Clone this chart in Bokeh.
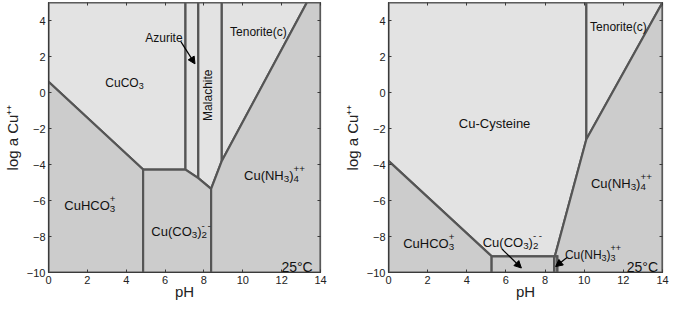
import math
from bokeh.plotting import figure
from bokeh.models import ColumnDataSource, LinearAxis, FixedTicker, Arrow, NormalHead
from bokeh.layouts import row
from bokeh.embed import file_html
from bokeh.resources import INLINE
from bokeh.core.properties import value

# ---------------- data ----------------
ph_ticks = [0, 2, 4, 6, 8, 10, 12, 14]
logcu_ticks = [-10, -8, -6, -4, -2, 0, 2, 4]
logcu_tick_labels = ["−10", "−8", "−6", "−4", "−2", "0", "2", "4"]
ph_range = [0, 14]
logcu_range = [-10, 5]

# Left panel: stability fields (pH, log a Cu++ vertices)
L_cuco3_ph = [0, 0, 4.87, 7.05, 7.05]
L_cuco3_lc = [5, 0.6, -4.28, -4.28, 5]
L_azurite_ph = [7.05, 7.05, 7.71, 7.71]
L_azurite_lc = [5, -4.28, -4.76, 5]
L_malachite_ph = [7.71, 7.71, 8.37, 8.92, 8.92]
L_malachite_lc = [5, -4.76, -5.35, -3.8, 5]
L_tenorite_ph = [8.92, 8.92, 13.3]
L_tenorite_lc = [5, -3.8, 5]
L_cuhco3_ph = [0, 0, 4.87, 4.87]
L_cuhco3_lc = [0.6, -10, -10, -4.28]
L_cuco32_ph = [4.87, 4.87, 8.37, 8.37, 7.71, 7.05]
L_cuco32_lc = [-4.28, -10, -10, -5.35, -4.76, -4.28]
L_cunh34_ph = [8.37, 14, 14, 13.3, 8.92, 8.37]
L_cunh34_lc = [-10, -10, 5, 5, -3.8, -5.35]

# Right panel: stability fields
R_cyst_ph = [0, 0, 5.27, 8.5, 10.11, 10.11]
R_cyst_lc = [5, -3.8, -9.1, -9.1, -2.6, 5]
R_tenorite_ph = [10.11, 10.11, 14]
R_tenorite_lc = [5, -2.6, 5]
R_cuhco3_ph = [0, 0, 5.27, 5.27]
R_cuhco3_lc = [-3.8, -10, -10, -9.1]
R_cuco32_ph = [5.27, 5.27, 8.46, 8.46]
R_cuco32_lc = [-9.1, -10, -10, -9.1]
R_cunh33_ph = [8.46, 8.46, 8.62, 8.62]
R_cunh33_lc = [-9.1, -10, -10, -9.1]
R_cunh34_ph = [8.62, 14, 14, 10.11, 8.5, 8.62]
R_cunh34_lc = [-10, -10, 5, -2.6, -9.1, -9.1]

LIGHT = "#e3e3e3"
DARK = "#cccccc"
STRIP = "#9a9a9a"
EDGE = "#555555"
FONT = "Liberation Sans"

# Arial advance widths (per 1000 em)
W = {'C': 722, 'u': 556, 'O': 778, 'H': 722, 'N': 722, '(': 333, ')': 333, '+': 584,
     '-': 333, ' ': 278, 'y': 500, 's': 500, 't': 278, 'e': 556, 'i': 222, 'n': 556,
     'T': 611, 'o': 556, 'r': 333, 'c': 500, 'A': 667, 'z': 500, 'M': 833, 'a': 556,
     'l': 222, 'h': 556, '°': 400}


def tw(s, size):
    return sum(W.get(ch, 556) for ch in s) * size / 1000.0


def make_fig(width, left, right):
    p = figure(width=width, height=302, x_range=tuple(ph_range), y_range=tuple(logcu_range),
               output_backend="svg", toolbar_location=None,
               min_border_left=left, min_border_right=right, min_border_top=2,
               min_border_bottom=20)
    p.grid.visible = False
    p.outline_line_color = "#3a3a3a"
    p.outline_line_width = 1.2
    p.background_fill_color = "white"
    p.border_fill_color = "white"
    ylab = dict(zip(logcu_ticks, logcu_tick_labels))
    for ax in (p.xaxis[0], p.yaxis[0]):
        ax.major_tick_in = 3
        ax.major_tick_out = 0
        ax.minor_tick_line_color = None
        ax.axis_line_color = "#3a3a3a"
        ax.major_tick_line_color = "#3a3a3a"
        ax.major_label_text_font = FONT
        ax.major_label_text_font_size = "11px"
        ax.major_label_text_color = "#222222"
        ax.axis_label_text_font = FONT
        ax.axis_label_text_font_size = "15px"
        ax.axis_label_text_font_style = "normal"
        ax.axis_label_text_color = "#222222"
        ax.major_label_standoff = 3
        ax.axis_label_standoff = 3
    p.xaxis[0].ticker = FixedTicker(ticks=ph_ticks)
    p.yaxis[0].ticker = FixedTicker(ticks=logcu_ticks)
    p.yaxis[0].major_label_overrides = ylab
    p.xaxis[0].axis_label = "pH"
    p.yaxis[0].axis_label = "log a Cu\u207a\u207a"
    p.xaxis[0].axis_label_standoff = -4
    p.xaxis[0].major_label_standoff = 3
    for loc, tk in (("above", ph_ticks), ("right", logcu_ticks)):
        ax = LinearAxis(ticker=FixedTicker(ticks=tk), major_tick_in=3, major_tick_out=0,
                        minor_tick_line_color=None, axis_line_color=None,
                        major_tick_line_color="#3a3a3a",
                        major_label_text_font_size="1px", major_label_text_color=None,
                        major_label_standoff=0)
        p.add_layout(ax, loc)
    return p


def region(p, xs, ys, color):
    p.patch(xs, ys, fill_color=color, line_color=EDGE, line_width=2.2, line_join="miter")


def label(p, x, y, parts, size=12, align="center", angle=0.0):
    ss = size * 0.75
    total = 0.0
    for part in parts:
        if part[0] == "n":
            total += tw(part[1], size)
        else:
            total += max(tw(part[1], ss), tw(part[2], ss))
    start = -total / 2 if align == "center" else -total
    base = 0.358 * size  # centre of cap height at y
    rows = {"n": ([], [], []), "s": ([], [], [])}
    cur = start
    for part in parts:
        if part[0] == "n":
            r = rows["n"]
            r[0].append(part[1]); r[1].append(cur); r[2].append(base)
            cur += tw(part[1], size)
        else:
            r = rows["s"]
            if part[1]:
                r[0].append(part[1]); r[1].append(cur); r[2].append(base + 3.5)
            if part[2]:
                r[0].append(part[2]); r[1].append(cur); r[2].append(base - 6.5)
            cur += max(tw(part[1], ss), tw(part[2], ss))
    for key, fs in (("n", size), ("s", ss)):
        t, xo, yo = rows[key]
        if not t:
            continue
        if angle:
            src = ColumnDataSource(dict(x=[x] * len(t), y=[y] * len(t), text=t))
            p.text("x", "y", text="text", source=src, angle=angle, text_align="center",
                   text_baseline="middle", text_font=value(FONT),
                   text_font_size=value(f"{fs}px"), text_color="#111111")
            continue
        src = ColumnDataSource(dict(x=[x] * len(t), y=[y] * len(t), text=t, xo=xo, yo=yo))
        p.text("x", "y", text="text", source=src, x_offset="xo", y_offset="yo",
               text_align="left", text_baseline="alphabetic", text_font=value(FONT),
               text_font_size=value(f"{fs}px"), text_color="#111111")


def arrow(p, xs, ys, xe, ye):
    p.add_layout(Arrow(end=NormalHead(size=7, fill_color="black", line_color="black"),
                       x_start=xs, y_start=ys, x_end=xe, y_end=ye,
                       line_color="black", line_width=1.2))


# ---------------- left panel ----------------
p1 = make_fig(330, 44, 10)
for xs, ys, c in ((L_cuco3_ph, L_cuco3_lc, LIGHT), (L_azurite_ph, L_azurite_lc, LIGHT),
                  (L_malachite_ph, L_malachite_lc, LIGHT), (L_tenorite_ph, L_tenorite_lc, LIGHT),
                  (L_cuhco3_ph, L_cuhco3_lc, DARK), (L_cuco32_ph, L_cuco32_lc, DARK),
                  (L_cunh34_ph, L_cunh34_lc, DARK)):
    region(p1, xs, ys, c)

label(p1, 3.91, 0.79, [("n", "CuCO"), ("s", "3", "")])
label(p1, 5.94, 3.24, [("n", "Azurite")])
label(p1, 8.2, -0.15, [("n", "Malachite")], angle=math.pi / 2)
label(p1, 10.84, 3.58, [("n", "Tenorite(c)")])
label(p1, 2.13, -6.0, [("n", "CuHCO"), ("s", "3", "+")], size=13)
label(p1, 6.82, -7.47, [("n", "Cu(CO"), ("s", "3", ""), ("n", ")"), ("s", "2", "- -")], size=13)
label(p1, 11.63, -4.37, [("n", "Cu(NH"), ("s", "3", ""), ("n", ")"), ("s", "4", "++")], size=13)
label(p1, 13.6, -9.4, [("n", "25°C")], size=14, align="right")
arrow(p1, 6.82, 2.81, 7.54, 1.59)

# ---------------- right panel ----------------
p2 = make_fig(339, 58, 7)
for xs, ys, c in ((R_cyst_ph, R_cyst_lc, LIGHT), (R_tenorite_ph, R_tenorite_lc, LIGHT),
                  (R_cuhco3_ph, R_cuhco3_lc, DARK), (R_cuco32_ph, R_cuco32_lc, DARK),
                  (R_cunh34_ph, R_cunh34_lc, DARK), (R_cunh33_ph, R_cunh33_lc, STRIP)):
    region(p2, xs, ys, c)

label(p2, 11.78, 3.85, [("n", "Tenorite(c)")])
label(p2, 5.42, -1.46, [("n", "Cu-Cysteine")], size=13)
label(p2, 11.9, -4.77, [("n", "Cu(NH"), ("s", "3", ""), ("n", ")"), ("s", "4", "++")], size=13)
label(p2, 2.06, -8.12, [("n", "CuHCO"), ("s", "3", "+")], size=13)
label(p2, 6.33, -8.06, [("n", "Cu(CO"), ("s", "3", ""), ("n", ")"), ("s", "2", "- -")], size=13)
label(p2, 10.45, -8.77, [("n", "Cu(NH"), ("s", "3", ""), ("n", ")"), ("s", "3", "++")], size=12)
label(p2, 13.77, -9.4, [("n", "25°C")], size=14, align="right")
arrow(p2, 5.8, -8.7, 6.79, -9.75)
arrow(p2, 9.12, -9.17, 8.54, -9.67)

layout = row(p1, p2)
open("out.html", "w").write(file_html(layout, INLINE))
